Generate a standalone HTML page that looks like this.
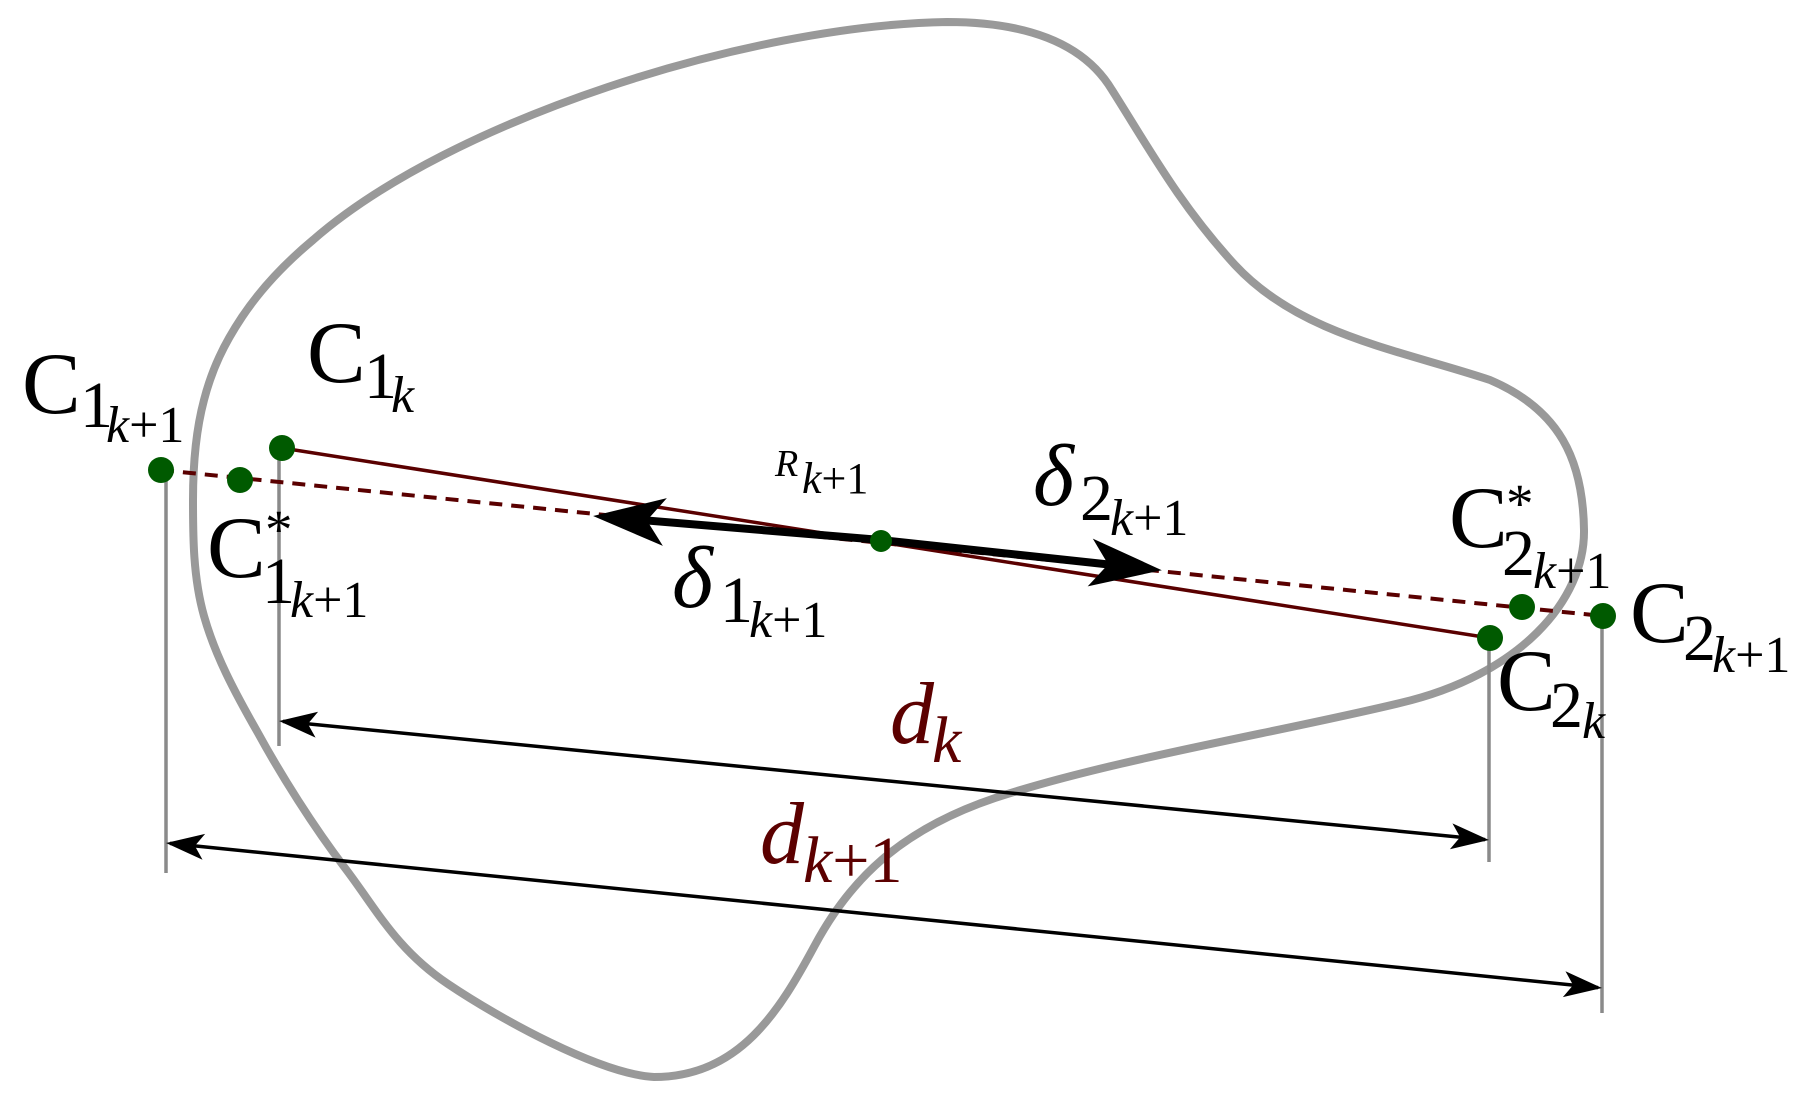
<!DOCTYPE html>
<html><head><meta charset="utf-8"><style>
html,body{margin:0;padding:0;background:#fff;}
svg{display:block;}
</style></head><body>
<svg width="1813" height="1101" viewBox="0 0 1813 1101" xmlns="http://www.w3.org/2000/svg">
<defs>
<marker id="big" markerUnits="userSpaceOnUse" orient="auto-start-reverse" markerWidth="120" markerHeight="60" refX="0" refY="0" viewBox="-50 -30 100 60" overflow="visible">
<path d="M30 0 L-42 -24 L-24 0 L-42 24 Z" fill="#000"/>
</marker>
<marker id="sm" markerUnits="userSpaceOnUse" orient="auto-start-reverse" markerWidth="60" markerHeight="40" refX="0" refY="0" viewBox="-40 -20 60 40" overflow="visible">
<path d="M4 0 L-34 -13 L-25 0 L-34 13 Z" fill="#000"/>
</marker>
</defs>
<!-- blob -->
<path d="M947,22 C1030,22 1085,45 1112,90 C1150,150 1180,205 1235,265 C1300,335 1400,350 1490,380 C1560,410 1583,460 1584,530 C1585,600 1520,675 1400,703 C1280,732 1110,760 995,798 C900,830 850,880 815,945 C780,1010 740,1077 654,1077 C600,1074 500,1019 448,984 C396,949 377,910 345,868 C313,826 281,775 258,733 C234,691 215,655 204,616 C193,577 193,536 193,500 C193,464 196,430 204,400 C212,369 224,344 242,317 C260,290 283,265 313,240 C450,120 750,25 947,22 Z" fill="none" stroke="#999" stroke-width="8"/>
<!-- vertical lines -->
<g stroke="#8a8a8a" stroke-width="3.5">
<line x1="166" y1="470" x2="166" y2="873"/>
<line x1="279" y1="448" x2="279" y2="746"/>
<line x1="1489" y1="638" x2="1489" y2="862"/>
<line x1="1602" y1="616" x2="1602" y2="1013"/>
</g>
<!-- lines -->
<line x1="161" y1="470" x2="1603" y2="616" stroke="#5a0000" stroke-width="4" stroke-dasharray="13,9"/>
<line x1="282" y1="448" x2="1490" y2="638" stroke="#5a0000" stroke-width="3.5"/>
<!-- delta arrows -->
<line x1="881" y1="540" x2="623" y2="518.5" stroke="#000" stroke-width="8" marker-end="url(#big)"/>
<line x1="881" y1="540" x2="1132" y2="567" stroke="#000" stroke-width="8" marker-end="url(#big)"/>
<!-- dimension arrows -->
<line x1="283" y1="721.4" x2="1485" y2="839.6" stroke="#000" stroke-width="3.5" marker-start="url(#sm)" marker-end="url(#sm)"/>
<line x1="170" y1="843.4" x2="1598" y2="987.6" stroke="#000" stroke-width="3.5" marker-start="url(#sm)" marker-end="url(#sm)"/>
<!-- dots -->
<g fill="#005a00">
<circle cx="161" cy="470" r="13"/>
<circle cx="240" cy="480" r="13"/>
<circle cx="282" cy="448" r="13"/>
<circle cx="881" cy="541" r="11"/>
<circle cx="1522" cy="607" r="13"/>
<circle cx="1603" cy="616" r="13"/>
<circle cx="1490" cy="638" r="13"/>
</g>
<!-- labels -->
<g fill="#000" font-family="'Liberation Serif','DejaVu Serif',serif">
<text x="22" y="413" font-size="88">C</text>
<text x="80" y="427" font-size="66">1</text>
<text x="106" y="442" font-size="52"><tspan font-style="italic">k</tspan>+1</text>

<text x="307" y="382" font-size="88">C</text>
<text x="364" y="398" font-size="66">1</text>
<text x="391" y="412" font-size="52" font-style="italic">k</text>

<text x="207" y="577" font-size="88">C</text>
<text x="265" y="548" font-size="55">*</text>
<text x="262" y="603" font-size="66">1</text>
<text x="290" y="617" font-size="52"><tspan font-style="italic">k</tspan>+1</text>

<text x="1449" y="547" font-size="88">C</text>
<text x="1506" y="522" font-size="55">*</text>
<text x="1502" y="575" font-size="66">2</text>
<text x="1533" y="588" font-size="52"><tspan font-style="italic">k</tspan>+1</text>

<text x="1630" y="642" font-size="88">C</text>
<text x="1683" y="660" font-size="66">2</text>
<text x="1712" y="672" font-size="52"><tspan font-style="italic">k</tspan>+1</text>

<text x="1497" y="710" font-size="88">C</text>
<text x="1550" y="727" font-size="66">2</text>
<text x="1582" y="738" font-size="52" font-style="italic">k</text>

<text x="775" y="476" font-size="38" font-style="italic">R</text>
<text x="802" y="493" font-size="44"><tspan font-style="italic">k</tspan>+1</text>

<text x="1033" y="505" font-size="88" font-style="italic">δ</text>
<text x="1080" y="520" font-size="66">2</text>
<text x="1110" y="535" font-size="52"><tspan font-style="italic">k</tspan>+1</text>

<text x="672" y="607" font-size="88" font-style="italic">δ</text>
<text x="720" y="622" font-size="66">1</text>
<text x="749" y="637" font-size="52"><tspan font-style="italic">k</tspan>+1</text>
</g>
<g fill="#5c0000" font-family="'Liberation Serif','DejaVu Serif',serif">
<text x="890" y="743" font-size="88" font-style="italic">d</text>
<text x="932" y="762" font-size="66" font-style="italic">k</text>
<text x="760" y="863" font-size="88" font-style="italic">d</text>
<text x="803" y="882" font-size="66"><tspan font-style="italic">k</tspan>+1</text>
</g>
</svg>
</body></html>
